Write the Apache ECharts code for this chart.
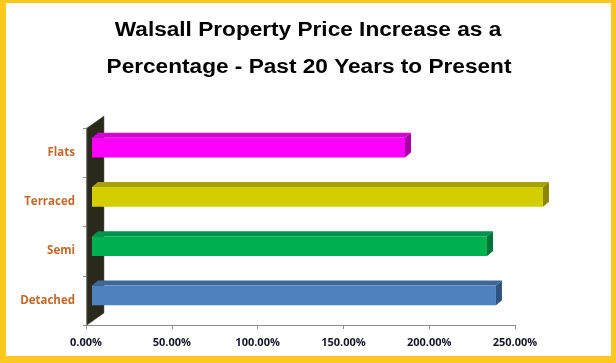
<!DOCTYPE html>
<html>
<head>
<meta charset="utf-8">
<script src="https://cdn.jsdelivr.net/npm/echarts@6/dist/echarts.min.js"></script>
<style>
html,body{margin:0;padding:0;background:#fff;}
#chart{width:616px;height:363px;}
</style>
</head>
<body>
<div id="chart"></div>
<script>
// ---- data ----
const titleLines = ['Walsall Property Price Increase as a', 'Percentage - Past 20 Years to Present'];
const categories = ['Detached', 'Semi', 'Terraced', 'Flats'];
const increasePct = [235.4, 230.2, 262.8, 182.4];
const xTickValues = [0, 50, 100, 150, 200, 250];

// ---- styles ----
const frontColors = ['#4F81BD', '#00B050', '#D2CE00', '#FF00FF'];
const topColors   = ['#3D6799', '#00914A', '#A8A200', '#D400D4'];
const sideColors  = ['#2F5381', '#00733A', '#8A8600', '#A600A6'];

const chart = echarts.init(document.getElementById('chart'), null, {renderer: 'canvas'});

const barData = categories.map((c, i) => [increasePct[i], i]);

const option = {
  backgroundColor: '#FFC81E',
  animation: false,
  graphic: [
    {type: 'rect', z: -100, shape: {x: 6, y: 3, width: 605, height: 353}, style: {fill: '#ffffff'}},
    {type: 'text', x: 308, y: 31, scaleX: 1.16, z: 10,
      style: {text: titleLines[0], x: 0, y: 0, textAlign: 'center', textVerticalAlign: 'middle', align: 'center', verticalAlign: 'middle',
        font: 'bold 19.5px "Liberation Sans", Arial, sans-serif', fill: '#000'}},
    {type: 'text', x: 309, y: 68, scaleX: 1.16, z: 10,
      style: {text: titleLines[1], x: 0, y: 0, textAlign: 'center', textVerticalAlign: 'middle', align: 'center', verticalAlign: 'middle',
        font: 'bold 19.5px "Liberation Sans", Arial, sans-serif', fill: '#000'}}
  ],
  grid: {left: 86, right: 101, top: 128, bottom: 38, containLabel: false},
  xAxis: {
    type: 'value', min: 0, max: 250, interval: 50,
    axisLine: {show: true, lineStyle: {color: '#8c8c8c', width: 1}},
    axisTick: {show: true, length: 4, lineStyle: {color: '#8c8c8c'}},
    splitLine: {show: false},
    axisLabel: {
      margin: 12, color: '#15152a', fontFamily: '"Open Sans"', fontWeight: 'bold', fontSize: 11,
      formatter: v => (xTickValues.indexOf(v) >= 0 ? v.toFixed(2) + '%' : '')
    }
  },
  yAxis: {
    type: 'category', data: categories,
    axisLine: {show: true, lineStyle: {color: '#8c8c8c', width: 1}},
    axisTick: {show: true, length: 3, lineStyle: {color: '#8c8c8c'}},
    axisLabel: {margin: 11, color: '#C2692C', fontFamily: '"Open Sans"', fontWeight: 'bold', fontSize: 11.5}
  },
  series: [
    {
      type: 'custom', silent: true, z: 1,
      data: [[0, 0]],
      renderItem: function (params, api) {
        const cs = params.coordSys;
        const x = cs.x + 1, t = cs.y, b = cs.y + cs.height;
        return {
          type: 'polygon',
          shape: {points: [[x, b], [x, t], [x + 17, t - 12], [x + 17, b - 12]]},
          style: {fill: '#2B281C', stroke: '#555', lineWidth: 0.5}
        };
      }
    },
    {
      type: 'custom', z: 3,
      encode: {x: 0, y: 1},
      data: barData,
      renderItem: function (params, api) {
        const idx = api.value(1);
        const end = api.coord([api.value(0), idx]);
        const start = api.coord([0, idx]);
        const band = api.size([0, 1])[1];
        const h = band * 0.406;
        const dx = 6, dy = 5;
        const x0 = start[0] + dx, x1 = end[0] + dx;
        const yc = end[1] - dy;
        const top = yc - h / 2, bot = yc + h / 2;
        const i = params.dataIndex;
        return {
          type: 'group',
          children: [
            {type: 'polygon', shape: {points: [[x0, top], [x1, top], [x1 + dx, top - dy], [x0 + dx, top - dy]]},
              style: {fill: topColors[i]}},
            {type: 'polygon', shape: {points: [[x1, top], [x1 + dx, top - dy], [x1 + dx, bot - dy], [x1, bot]]},
              style: {fill: sideColors[i]}},
            {type: 'rect', shape: {x: x0, y: top, width: x1 - x0, height: h},
              style: {fill: frontColors[i]}}
          ]
        };
      }
    }
  ]
};
chart.setOption(option);
</script>
</body>
</html>
